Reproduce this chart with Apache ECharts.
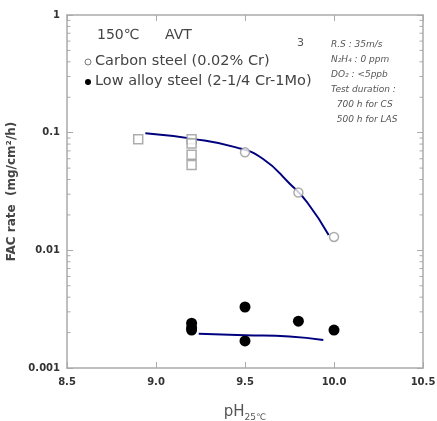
<!DOCTYPE html>
<html>
<head>
<meta charset="utf-8">
<script src="https://cdn.jsdelivr.net/npm/echarts@6.0.0/dist/echarts.min.js"></script>
<style>
  html, body { margin: 0; padding: 0; background: #fff; }
  #chart { width: 437px; height: 421px; }
</style>
</head>
<body>
<div id="chart"></div>
<script>
// carbon steel (open marks)
const csPH = [8.9, 9.2, 9.2, 9.2, 9.2, 9.5, 9.8, 10.0];
const csRate = [0.088, 0.088, 0.081, 0.065, 0.053, 0.068, 0.031, 0.013];
// low alloy steel (filled marks)
const lasPH = [9.2, 9.2, 9.2, 9.5, 9.5, 9.8, 10.0];
const lasRate = [0.0024, 0.0022, 0.0021, 0.0033, 0.0017, 0.0025, 0.0021];
// fitted curves
const csFitPH = [8.94, 9.2, 9.45, 9.6, 9.75, 9.85, 9.97];
const csFitRate = [0.099, 0.089, 0.075, 0.06, 0.037, 0.0255, 0.0135];
const lasFitPH = [9.24, 9.5, 9.75, 9.94];
const lasFitRate = [0.00195, 0.0019, 0.00185, 0.00173];
// log minor ticks
const minorTicks = [0.002, 0.003, 0.004, 0.005, 0.006, 0.007, 0.008, 0.009,
  0.02, 0.03, 0.04, 0.05, 0.06, 0.07, 0.08, 0.09,
  0.2, 0.3, 0.4, 0.5, 0.6, 0.7, 0.8, 0.9];
const noteLines = ["R.S : 35m/s", "N₂H₄ : 0 ppm", "DO₂ : <5ppb", "Test duration :", "  700 h for CS", "  500 h for LAS"];

const X_MIN = 8.5, X_MAX = 10.5;
const FONT = "DejaVu Sans";
const AXIS_COLOR = "#aaa";
const zip = (a, b) => a.map((v, i) => [v, b[i]]);

const chart = echarts.init(document.getElementById("chart"));

const axisLine = { lineStyle: { color: AXIS_COLOR, width: 1.5 } };
const tickIn = { inside: true, length: 6, lineStyle: { color: AXIS_COLOR, width: 1 } };

let option = {
  animation: false,
  backgroundColor: "#fff",
  grid: { left: 67, right: 14, top: 15, bottom: 53, outerBoundsMode: "none" },
  xAxis: [
    {
      type: "value",
      min: X_MIN,
      max: X_MAX,
      interval: 0.5,
      axisLine: axisLine,
      axisTick: tickIn,
      splitLine: { show: false },
      axisLabel: {
        margin: 9,
        color: "#333",
        fontFamily: FONT,
        fontWeight: "bold",
        fontSize: 10,
        formatter: (v) => v.toFixed(1),
      },
      name: "pH{sub|25℃}",
      nameLocation: "middle",
      nameGap: 35,
      nameTextStyle: {
        color: "#555",
        fontFamily: FONT,
        fontSize: 15,
        rich: { sub: { fontSize: 9, color: "#555", fontFamily: FONT, padding: [10, 0, 0, 0] } },
      },
    },
    {
      type: "value",
      position: "top",
      min: X_MIN,
      max: X_MAX,
      interval: 0.5,
      axisLine: axisLine,
      axisTick: tickIn,
      axisLabel: { show: false },
      splitLine: { show: false },
    },
  ],
  yAxis: [
    {
      type: "log",
      logBase: 10,
      min: 0.001,
      max: 1,
      axisLine: axisLine,
      axisTick: tickIn,
      splitLine: { show: false },
      axisLabel: {
        margin: 7,
        color: "#333",
        fontFamily: FONT,
        fontWeight: "bold",
        fontSize: 10,
      },
      name: "FAC rate  (mg/cm²/h)",
      nameLocation: "middle",
      nameRotate: 90,
      nameGap: 41,
      nameTextStyle: { color: "#444", fontFamily: FONT, fontWeight: "bold", fontSize: 12 },
    },
    {
      type: "log",
      logBase: 10,
      position: "right",
      min: 0.001,
      max: 1,
      axisLine: axisLine,
      axisTick: tickIn,
      axisLabel: { show: false },
      splitLine: { show: false },
    },
  ],
  series: [
    {
      // minor ticks on both y edges
      type: "custom",
      silent: true,
      data: minorTicks.map((v) => [X_MIN, v]),
      renderItem: function (params, api) {
        const v = api.value(1);
        const l = api.coord([X_MIN, v]);
        const r = api.coord([X_MAX, v]);
        const st = { stroke: AXIS_COLOR, lineWidth: 1 };
        return {
          type: "group",
          children: [
            { type: "line", shape: { x1: l[0], y1: l[1], x2: l[0] + 3.5, y2: l[1] }, style: st },
            { type: "line", shape: { x1: r[0], y1: r[1], x2: r[0] - 3.5, y2: r[1] }, style: st },
          ],
        };
      },
      z: 1,
    },
    {
      type: "line",
      data: zip(csFitPH, csFitRate),
      smooth: true,
      symbol: "none",
      lineStyle: { color: "#00007f", width: 2 },
      z: 2,
    },
    {
      type: "line",
      data: zip(lasFitPH, lasFitRate),
      smooth: true,
      symbol: "none",
      lineStyle: { color: "#00007f", width: 2 },
      z: 2,
    },
    {
      name: "Carbon steel",
      type: "scatter",
      data: zip(csPH, csRate),
      symbol: (val, p) => (p.dataIndex < 5 ? "rect" : "circle"),
      symbolSize: 9,
      itemStyle: { color: "#fff", borderColor: "#999", borderWidth: 1.5 },
      z: 3,
    },
    {
      name: "Low alloy steel",
      type: "scatter",
      data: zip(lasPH, lasRate),
      symbol: "circle",
      symbolSize: 11,
      itemStyle: { color: "#000", opacity: 1 },
      z: 3,
    },
  ],
  graphic: [
    { type: "text", left: 97, top: 28, style: { text: "150℃", font: "14px " + FONT, fill: "#444" } },
    { type: "text", left: 165, top: 28, style: { text: "AVT", font: "14px " + FONT, fill: "#444" } },
    { type: "text", left: 297, top: 38, style: { text: "3", font: "11px " + FONT, fill: "#555" } },
    { type: "circle", shape: { cx: 88, cy: 62, r: 3 }, style: { fill: "#fff", stroke: "#777", lineWidth: 1 } },
    { type: "text", left: 95, top: 54, style: { text: "Carbon steel (0.02% Cr)", font: "14.5px " + FONT, fill: "#444" } },
    { type: "circle", shape: { cx: 88, cy: 82, r: 3 }, style: { fill: "#000" } },
    { type: "text", left: 95, top: 74, style: { text: "Low alloy steel (2-1/4 Cr-1Mo)", font: "14.5px " + FONT, fill: "#444" } },
  ],
};

noteLines.forEach((t, i) => {
  option.graphic.push({
    type: "text",
    left: 331,
    top: 40 + i * 15,
    style: { text: t, font: "italic 9px " + FONT, fill: "#555" },
  });
});

chart.setOption(option);
</script>
</body>
</html>
